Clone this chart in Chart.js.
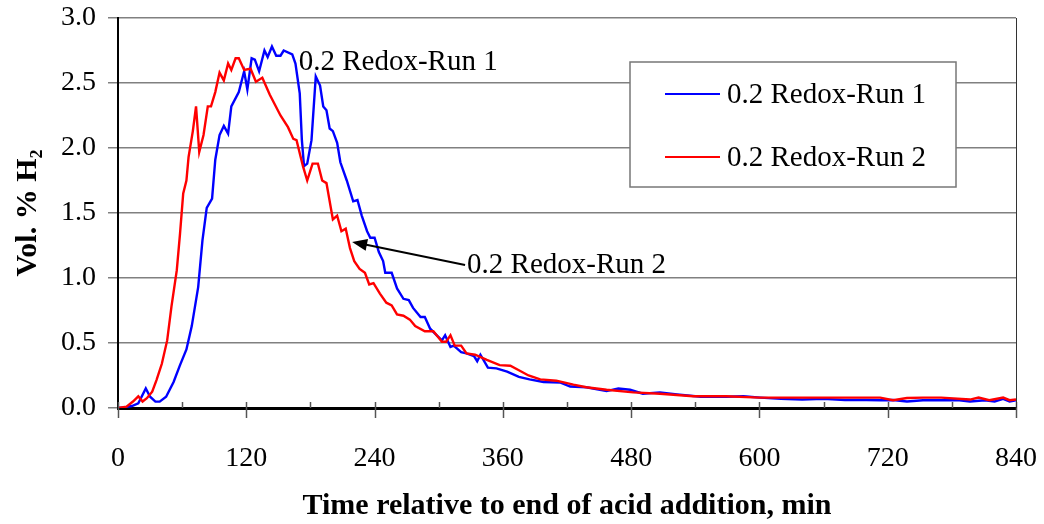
<!DOCTYPE html>
<html lang="en">
  <head>
    <meta charset="UTF-8" />
    <title>Vol. % H2 vs time</title>
    <script src="https://cdn.jsdelivr.net/npm/chart.js"></script>
    <style>
      html, body { margin: 0; padding: 0; background: #fff; }
      #wrap { width: 1044px; height: 524px; position: relative; }
    </style>
  </head>
  <body>
    <div id="wrap"><canvas id="chart"></canvas></div>
    <script>
      // minutes after end of acid addition / vol. % H2
      const run1Time = [0, 6, 13, 19, 26, 30, 35, 39, 45, 52, 58, 64, 69, 75, 79, 83, 88, 91, 95, 99,
        103, 106, 113, 118, 121, 125, 128, 132, 137, 140, 144, 148, 152, 155, 163, 166, 170, 172, 174, 177,
        181, 185, 189, 192, 195, 198, 201, 205, 208, 214, 220, 224, 228, 233, 236, 240, 244, 248, 250, 256,
        261, 267, 272, 276, 283, 287, 292, 298, 303, 306, 311, 314, 321, 326, 333, 336, 339, 346, 354, 364,
        375, 385, 398, 414, 423, 438, 457, 468, 479, 491, 507, 523, 545, 569, 585, 601, 620, 640, 660, 680,
        700, 713, 725, 738, 753, 770, 785, 797, 811, 820, 828, 834, 840];
      const run1Vol = [0, 0.005, 0.015, 0.036, 0.15, 0.087, 0.049, 0.049, 0.087, 0.2, 0.33, 0.45, 0.63, 0.93, 1.29, 1.54, 1.61, 1.91, 2.1, 2.17,
        2.11, 2.32, 2.43, 2.59, 2.45, 2.69, 2.68, 2.59, 2.75, 2.7, 2.78, 2.71, 2.71, 2.75, 2.72, 2.65, 2.42, 2.06, 1.86, 1.88,
        2.06, 2.55, 2.48, 2.32, 2.29, 2.15, 2.13, 2.04, 1.89, 1.75, 1.59, 1.6, 1.48, 1.36, 1.31, 1.31, 1.2, 1.13, 1.04, 1.04,
        0.92, 0.84, 0.83, 0.77, 0.7, 0.7, 0.61, 0.56, 0.52, 0.56, 0.47, 0.48, 0.43, 0.42, 0.4, 0.36, 0.41, 0.31, 0.305, 0.28,
        0.24, 0.22, 0.2, 0.195, 0.165, 0.16, 0.13, 0.15, 0.14, 0.11, 0.12, 0.105, 0.087, 0.087, 0.09, 0.08, 0.07, 0.065, 0.07, 0.062,
        0.062, 0.06, 0.062, 0.05, 0.06, 0.06, 0.062, 0.05, 0.06, 0.05, 0.07, 0.05, 0.06];

      const run2Time = [0, 8, 14, 19, 23, 27, 32, 36, 41, 46, 50, 55, 58, 61, 64, 66, 70, 73, 76, 80,
        84, 87, 91, 95, 99, 103, 106, 110, 113, 118, 124, 129, 135, 142, 152, 159, 164, 167, 173, 177,
        182, 187, 191, 195, 201, 205, 209, 213, 217, 221, 226, 231, 235, 239, 245, 251, 256, 261, 267, 273,
        278, 287, 295, 303, 307, 311, 315, 321, 326, 334, 345, 357, 367, 375, 384, 395, 410, 426, 438, 457,
        482, 507, 538, 569, 600, 620, 650, 680, 713, 725, 738, 753, 770, 797, 805, 815, 828, 834, 840];
      const run2Vol = [0, 0.01, 0.05, 0.09, 0.05, 0.075, 0.125, 0.215, 0.34, 0.52, 0.78, 1.06, 1.34, 1.65, 1.75, 1.93, 2.13, 2.32, 1.97, 2.1,
        2.32, 2.32, 2.43, 2.58, 2.52, 2.65, 2.6, 2.69, 2.69, 2.6, 2.61, 2.51, 2.54, 2.41, 2.25, 2.16, 2.07, 2.06, 1.86, 1.75,
        1.88, 1.88, 1.75, 1.73, 1.45, 1.48, 1.36, 1.38, 1.23, 1.13, 1.07, 1.04, 0.95, 0.96, 0.88, 0.81, 0.79, 0.72, 0.71, 0.68,
        0.63, 0.59, 0.59, 0.51, 0.51, 0.56, 0.48, 0.48, 0.42, 0.41, 0.37, 0.33, 0.325, 0.29, 0.25, 0.22, 0.21, 0.18, 0.16, 0.14,
        0.12, 0.11, 0.09, 0.09, 0.08, 0.08, 0.08, 0.08, 0.08, 0.06, 0.077, 0.08, 0.08, 0.065, 0.08, 0.06, 0.08, 0.06, 0.065];

      const seriesNames = ["0.2 Redox-Run 1", "0.2 Redox-Run 2"];
      const seriesColors = ["#0000ff", "#ff0000"];

      // text callouts, anchored in data units (min, vol %)
      const callouts = [
        { text: "0.2 Redox-Run 1", x: 169, y: 2.66 },
        { text: "0.2 Redox-Run 2", x: 326.5, y: 1.1, arrowTo: [219, 1.277] },
      ];

      const serif = "'Liberation Serif', 'Times New Roman', serif";

      function toPoints(xs, ys) {
        return xs.map((x, i) => ({ x: x, y: ys[i] }));
      }

      // x axis tick marks: majors cross the axis, minors sit inside
      const xTickMarks = {
        id: "xTickMarks",
        afterDraw(chart) {
          const ctx = chart.ctx;
          const xs = chart.scales.x;
          const area = chart.chartArea;
          ctx.save();
          ctx.strokeStyle = "#555";
          ctx.lineWidth = 1.5;
          for (let v = xs.min; v <= xs.max; v += 60) {
            const px = Math.round(xs.getPixelForValue(v)) + 0.5;
            const major = v % 120 === 0;
            ctx.beginPath();
            ctx.moveTo(px, area.bottom - 6);
            ctx.lineTo(px, area.bottom + (major ? 10 : 0));
            ctx.stroke();
          }
          // right frame edge
          ctx.strokeStyle = "#333";
          ctx.lineWidth = 1;
          ctx.beginPath();
          ctx.moveTo(Math.round(area.right) + 0.5, area.top);
          ctx.lineTo(Math.round(area.right) + 0.5, area.bottom);
          ctx.stroke();
          ctx.restore();
        },
      };

      const boxedLegend = {
        id: "boxedLegend",
        afterDraw(chart) {
          const ctx = chart.ctx;
          const box = { left: 630, top: 62, width: 326, height: 125 };
          ctx.save();
          ctx.fillStyle = "#fff";
          ctx.fillRect(box.left, box.top, box.width, box.height);
          ctx.strokeStyle = "#777";
          ctx.lineWidth = 1.5;
          ctx.strokeRect(box.left, box.top, box.width, box.height);
          ctx.font = "29px " + serif;
          ctx.textBaseline = "middle";
          ctx.fillStyle = "#000";
          chart.data.datasets.forEach((ds, i) => {
            const cy = box.top + 32 + i * 63;
            ctx.strokeStyle = ds.borderColor;
            ctx.lineWidth = 2;
            ctx.beginPath();
            ctx.moveTo(box.left + 35, cy);
            ctx.lineTo(box.left + 90, cy);
            ctx.stroke();
            ctx.fillText(ds.label, box.left + 97, cy + 1);
          });
          ctx.restore();
        },
      };

      const calloutLabels = {
        id: "calloutLabels",
        afterDraw(chart) {
          const ctx = chart.ctx;
          const xs = chart.scales.x;
          const ys = chart.scales.y;
          ctx.save();
          ctx.font = "29px " + serif;
          ctx.textBaseline = "middle";
          ctx.fillStyle = "#000";
          callouts.forEach((c) => {
            const px = xs.getPixelForValue(c.x);
            const py = ys.getPixelForValue(c.y);
            ctx.fillText(c.text, px, py);
            if (c.arrowTo) {
              const tx = xs.getPixelForValue(c.arrowTo[0]);
              const ty = ys.getPixelForValue(c.arrowTo[1]);
              const ang = Math.atan2(ty - py, tx - px);
              ctx.strokeStyle = "#000";
              ctx.lineWidth = 2;
              ctx.beginPath();
              ctx.moveTo(px - 2, py);
              ctx.lineTo(tx - 12 * Math.cos(ang), ty - 12 * Math.sin(ang));
              ctx.stroke();
              ctx.beginPath();
              ctx.moveTo(tx, ty);
              ctx.lineTo(tx - 15 * Math.cos(ang) + 6 * Math.sin(ang), ty - 15 * Math.sin(ang) - 6 * Math.cos(ang));
              ctx.lineTo(tx - 15 * Math.cos(ang) - 6 * Math.sin(ang), ty - 15 * Math.sin(ang) + 6 * Math.cos(ang));
              ctx.closePath();
              ctx.fill();
            }
          });
          ctx.restore();
        },
      };

      new Chart(document.getElementById("chart"), {
        type: "line",
        data: {
          datasets: [
            {
              label: seriesNames[0],
              data: toPoints(run1Time, run1Vol),
              borderColor: seriesColors[0],
              borderWidth: 2.4,
              pointRadius: 0,
              tension: 0,
              order: 1,
            },
            {
              label: seriesNames[1],
              data: toPoints(run2Time, run2Vol),
              borderColor: seriesColors[1],
              borderWidth: 2.4,
              pointRadius: 0,
              tension: 0,
              order: 0,
            },
          ],
        },
        options: {
          responsive: true,
          maintainAspectRatio: false,
          animation: false,
          layout: { padding: { top: 18, right: 28, left: 0, bottom: 0 } },
          plugins: {
            legend: { display: false },
            tooltip: { enabled: false },
          },
          scales: {
            x: {
              type: "linear",
              min: 0,
              max: 840,
              afterFit: (s) => {
                s.height = 116;
                s.paddingLeft = 0;
                s.paddingRight = 0;
              },
              ticks: {
                stepSize: 120,
                color: "#000",
                padding: 34,
                font: { family: serif, size: 28 },
              },
              grid: { display: false, drawTicks: false },
              border: { display: true, color: "#000", width: 3 },
              title: {
                display: true,
                text: "Time relative to end of acid addition, min",
                color: "#000",
                font: { family: serif, size: 30, weight: "bold" },
                padding: { top: 0, bottom: 0 },
              },
            },
            y: {
              min: 0,
              max: 3,
              afterFit: (s) => {
                s.width = 118;
                s.paddingTop = 0;
                s.paddingBottom = 0;
              },
              ticks: {
                stepSize: 0.5,
                color: "#000",
                padding: 12,
                font: { family: serif, size: 28 },
                callback: (v) => v.toFixed(1),
              },
              grid: { color: "#808080", lineWidth: 1.5, tickLength: 10 },
              border: { display: true, color: "#000", width: 2 },
              title: {
                display: true,
                text: "Vol. % H₂",
                color: "#000",
                font: { family: serif, size: 30, weight: "bold" },
                padding: { top: 10, bottom: 0 },
              },
            },
          },
        },
        plugins: [xTickMarks, boxedLegend, calloutLabels],
      });
    </script>
  </body>
</html>
